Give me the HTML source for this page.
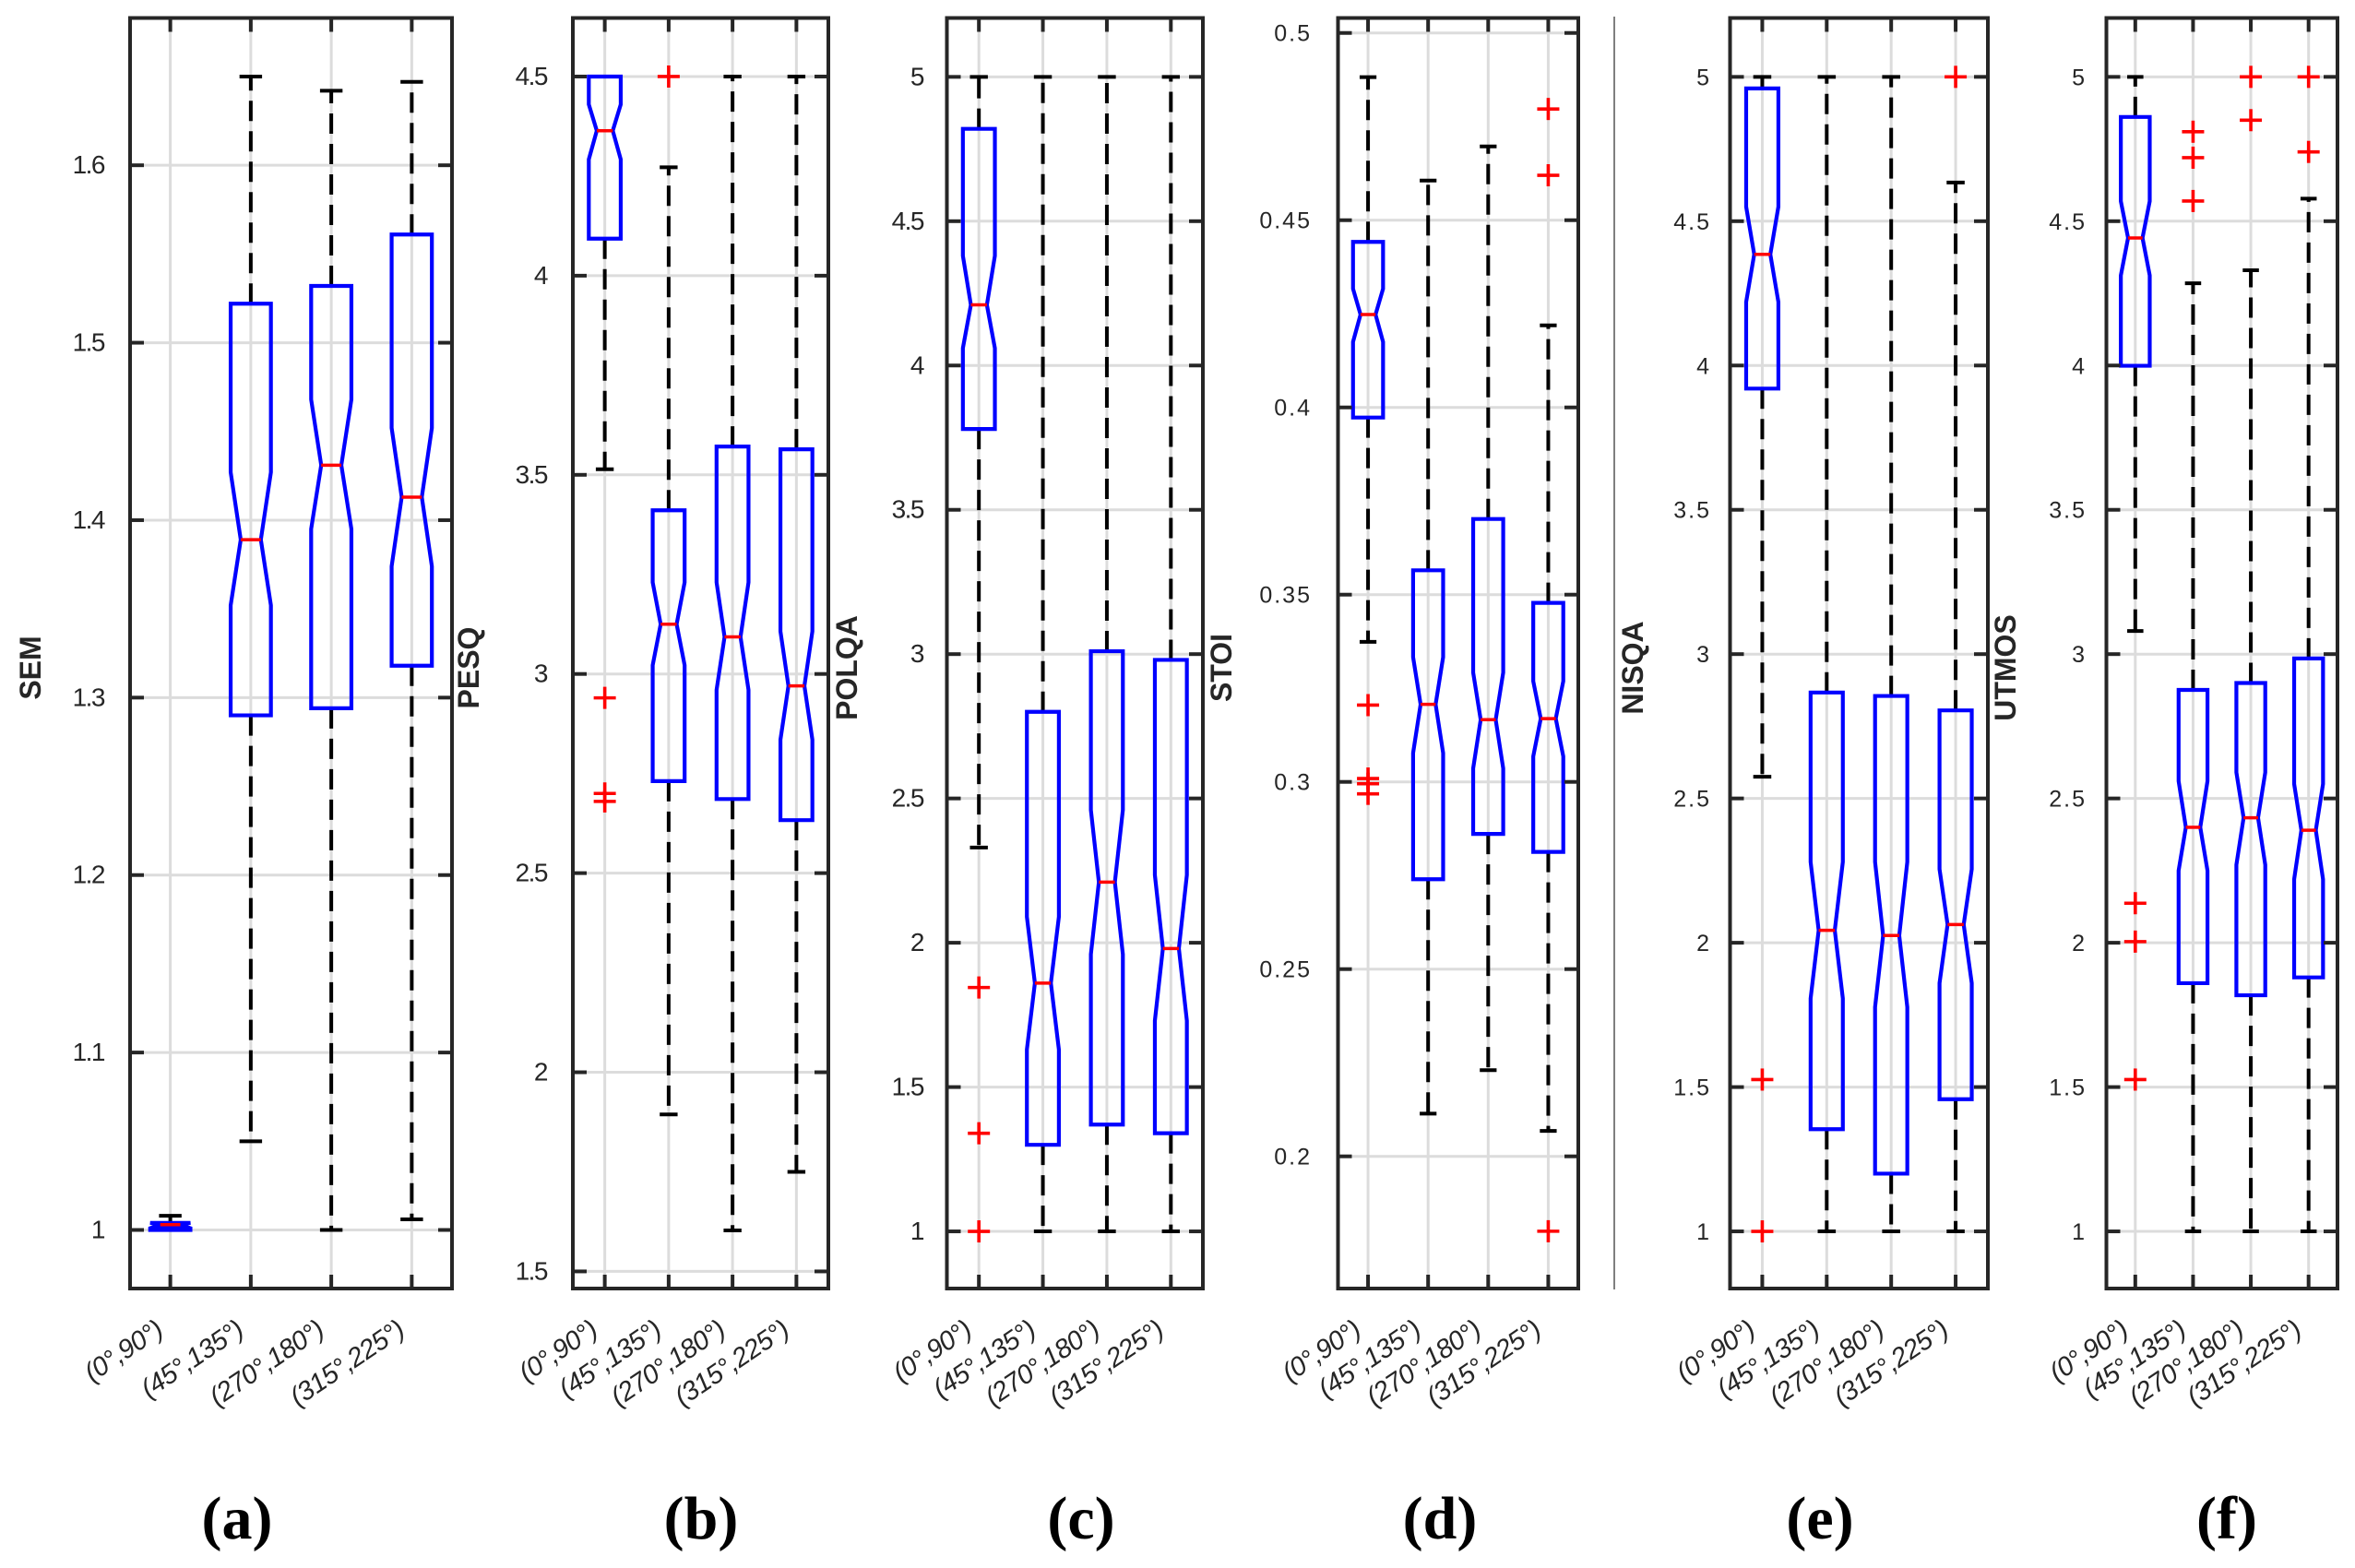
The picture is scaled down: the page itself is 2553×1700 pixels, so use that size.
<!DOCTYPE html>
<html><head><meta charset="utf-8"><title>Box plots</title>
<style>html,body{margin:0;padding:0;background:#fff}svg{display:block}</style></head>
<body>
<svg id="chart" width="2553" height="1700" viewBox="0 0 2553 1700" xmlns="http://www.w3.org/2000/svg"></svg>
<script>
const categories = ["(0°,90°)","(45°,135°)","(270°,180°)","(315°,225°)"];

const semQ1 = [1.000, 1.290, 1.294, 1.318];
const semQ3 = [1.004, 1.522, 1.532, 1.561];
const semMed = [1.003, 1.389, 1.431, 1.413];
const semNotchLo = [1.001, 1.352, 1.395, 1.374];
const semNotchHi = [1.004, 1.427, 1.468, 1.452];
const semWhiskLo = [1.000, 1.050, 1.000, 1.006];
const semWhiskHi = [1.008, 1.650, 1.642, 1.647];
const semOutliers = [[], [], [], []];

const pesqQ1 = [4.093, 2.731, 2.686, 2.633];
const pesqQ3 = [4.500, 3.411, 3.571, 3.564];
const pesqMed = [4.364, 3.125, 3.093, 2.970];
const pesqNotchLo = [4.292, 3.022, 2.960, 2.835];
const pesqNotchHi = [4.430, 3.230, 3.230, 3.107];
const pesqWhiskLo = [3.514, 1.894, 1.603, 1.750];
const pesqWhiskHi = [4.500, 4.272, 4.500, 4.500];
const pesqOutliers = [[2.94, 2.70, 2.68], [4.5], [], []];

const polqaQ1 = [3.78, 1.30, 1.37, 1.34];
const polqaQ3 = [4.82, 2.80, 3.01, 2.98];
const polqaMed = [4.21, 1.86, 2.21, 1.98];
const polqaNotchLo = [4.06, 1.63, 1.96, 1.73];
const polqaNotchHi = [4.38, 2.09, 2.46, 2.235];
const polqaWhiskLo = [2.33, 1.0, 1.0, 1.0];
const polqaWhiskHi = [5.0, 5.0, 5.0, 5.0];
const polqaOutliers = [[1.845, 1.34, 1.0], [], [], []];

const stoiQ1 = [0.3973, 0.2740, 0.2861, 0.2813];
const stoiQ3 = [0.4442, 0.3565, 0.3702, 0.3478];
const stoiMed = [0.4248, 0.3207, 0.3166, 0.3169];
const stoiNotchLo = [0.4175, 0.3077, 0.3036, 0.3068];
const stoiNotchHi = [0.4317, 0.3333, 0.3292, 0.3269];
const stoiWhiskLo = [0.3374, 0.2114, 0.2230, 0.2068];
const stoiWhiskHi = [0.4882, 0.4606, 0.4697, 0.4219];
const stoiOutliers = [[0.3205, 0.3009, 0.2995, 0.2968], [], [], [0.4797, 0.462, 0.18]];

const nisqaQ1 = [3.92, 1.354, 1.20, 1.458];
const nisqaQ3 = [4.96, 2.867, 2.855, 2.805];
const nisqaMed = [4.385, 2.043, 2.025, 2.063];
const nisqaNotchLo = [4.22, 1.807, 1.777, 1.86];
const nisqaNotchHi = [4.55, 2.28, 2.28, 2.255];
const nisqaWhiskLo = [2.575, 1.0, 1.0, 1.0];
const nisqaWhiskHi = [5.0, 5.0, 5.0, 4.634];
const nisqaOutliers = [[1.526, 1.0], [], [], [5.0]];

const utmosQ1 = [3.999, 1.86, 1.818, 1.88];
const utmosQ3 = [4.861, 2.876, 2.90, 2.985];
const utmosMed = [4.442, 2.40, 2.433, 2.39];
const utmosNotchLo = [4.312, 2.25, 2.27, 2.22];
const utmosNotchHi = [4.569, 2.56, 2.59, 2.55];
const utmosWhiskLo = [3.08, 1.0, 1.0, 1.0];
const utmosWhiskHi = [5.0, 4.285, 4.33, 4.578];
const utmosOutliers = [[2.137, 2.004, 1.526], [4.81, 4.72, 4.57], [5.0, 4.85], [5.0, 4.74]];

const semTicks = ["1","1.1","1.2","1.3","1.4","1.5","1.6"];
const pesqTicks = ["1.5","2","2.5","3","3.5","4","4.5"];
const mosTicks = ["1","1.5","2","2.5","3","3.5","4","4.5","5"];
const stoiTicks = ["0.2","0.25","0.3","0.35","0.4","0.45","0.5"];
const panelLetters = ["(a)","(b)","(c)","(d)","(e)","(f)"];

const NS = "http://www.w3.org/2000/svg";
const svg = document.getElementById("chart");
function mk(tag, attrs, parent) {
  const e = document.createElementNS(NS, tag);
  for (const k in attrs) e.setAttribute(k, attrs[k]);
  (parent || svg).appendChild(e);
  return e;
}

const panels = [
  {key:"sem", title:"SEM", x0:141, x1:490, vmin:0.967, vmax:1.683, ticks:semTicks, lblR:113, titleX:33, letterX:257, wide:false,
   q1:semQ1,q3:semQ3,med:semMed,nlo:semNotchLo,nhi:semNotchHi,wlo:semWhiskLo,whi:semWhiskHi,out:semOutliers},
  {key:"pesq", title:"PESQ", x0:621, x1:898, vmin:1.457, vmax:4.647, ticks:pesqTicks, lblR:593, titleX:508, letterX:760, wide:false,
   q1:pesqQ1,q3:pesqQ3,med:pesqMed,nlo:pesqNotchLo,nhi:pesqNotchHi,wlo:pesqWhiskLo,whi:pesqWhiskHi,out:pesqOutliers},
  {key:"polqa", title:"POLQA", x0:1026.5, x1:1304, vmin:0.802, vmax:5.204, ticks:mosTicks, lblR:1001, titleX:918, letterX:1172, wide:false,
   q1:polqaQ1,q3:polqaQ3,med:polqaMed,nlo:polqaNotchLo,nhi:polqaNotchHi,wlo:polqaWhiskLo,whi:polqaWhiskHi,out:polqaOutliers},
  {key:"stoi", title:"STOI", x0:1450.5, x1:1711, vmin:0.1647, vmax:0.504, ticks:stoiTicks, lblR:1422, titleX:1324, letterX:1561, wide:true,
   q1:stoiQ1,q3:stoiQ3,med:stoiMed,nlo:stoiNotchLo,nhi:stoiNotchHi,wlo:stoiWhiskLo,whi:stoiWhiskHi,out:stoiOutliers},
  {key:"nisqa", title:"NISQA", x0:1875.5, x1:2155, vmin:0.802, vmax:5.204, ticks:mosTicks, lblR:1855, titleX:1770, letterX:1973, wide:true,
   q1:nisqaQ1,q3:nisqaQ3,med:nisqaMed,nlo:nisqaNotchLo,nhi:nisqaNotchHi,wlo:nisqaWhiskLo,whi:nisqaWhiskHi,out:nisqaOutliers},
  {key:"utmos", title:"UTMOS", x0:2283.5, x1:2534, vmin:0.802, vmax:5.204, ticks:mosTicks, lblR:2262, titleX:2174, letterX:2414, wide:true,
   q1:utmosQ1,q3:utmosQ3,med:utmosMed,nlo:utmosNotchLo,nhi:utmosNotchHi,wlo:utmosWhiskLo,whi:utmosWhiskHi,out:utmosOutliers}
];
const Y0 = 19.5, Y1 = 1397;

panels.forEach((p, pi) => {
  const g = mk("g", {});
  
  
  const yS = v => Y1 - (v - p.vmin) / (p.vmax - p.vmin) * (Y1 - Y0);
  const w = p.x1 - p.x0, sp = w / 4;
  const xS = i => p.x0 + (i + 0.5) * sp;
  const hw = sp * 0.25, cw = sp * 0.14, tl = 15;

  p.ticks.forEach(t => {
    const y = yS(parseFloat(t));
    const gl = mk("line", {x1:p.x0, x2:p.x1, y1:y, y2:y, stroke:"#dcdcdc", "stroke-width":3}, g);
    
    
  });
  categories.forEach((c, i) => {
    const gl = mk("line", {x1:xS(i), x2:xS(i), y1:Y0, y2:Y1, stroke:"#dcdcdc", "stroke-width":3}, g);
    
    
  });

  categories.forEach((c, i) => {
    const x = xS(i);
    const bg = mk("g", {}, g);
    
    
    const dash = {stroke:"#000", "stroke-width":4, "stroke-dasharray":"22 11"};
    mk("line", Object.assign({x1:x, x2:x, y1:yS(p.q3[i]), y2:yS(p.whi[i])}, dash), bg);
    mk("line", Object.assign({x1:x, x2:x, y1:yS(p.q1[i]), y2:yS(p.wlo[i])}, dash), bg);
    const capU = mk("line", {x1:x-cw, x2:x+cw, y1:yS(p.whi[i]), y2:yS(p.whi[i]), stroke:"#000", "stroke-width":4}, bg);
    
    const capL = mk("line", {x1:x-cw, x2:x+cw, y1:yS(p.wlo[i]), y2:yS(p.wlo[i]), stroke:"#000", "stroke-width":4}, bg);
    
    const yq1 = yS(p.q1[i]), yq3 = yS(p.q3[i]), ym = yS(p.med[i]);
    const ynl = yS(p.nlo[i]), ynh = yS(p.nhi[i]);
    const nw = hw * 0.5;
    const pts = [[x-hw,yq1],[x-hw,ynl],[x-nw,ym],[x-hw,ynh],[x-hw,yq3],[x+hw,yq3],[x+hw,ynh],[x+nw,ym],[x+hw,ynl],[x+hw,yq1]];
    const poly = mk("polygon", {points: pts.map(q => q.join(",")).join(" "), fill: (yq1 - yq3 < 12 ? "#0000ff" : "none"), stroke:"#0000ff", "stroke-width":4.2, "stroke-linejoin":"miter"}, bg);
    
    const med = mk("line", {x1:x-nw, x2:x+nw, y1:ym, y2:ym, stroke:"#ff0000", "stroke-width":3.5}, bg);
    
    p.out[i].forEach(v => {
      const y = yS(v), s = 12;
      const og = mk("g", {stroke:"#ff0000", "stroke-width":3.6}, bg);
      
      
      mk("line", {x1:x-s, x2:x+s, y1:y, y2:y}, og);
      mk("line", {x1:x, x2:x, y1:y-s, y2:y+s}, og);
    });
  });

  p.ticks.forEach(t => {
    const y = yS(parseFloat(t));
    mk("line", {x1:p.x0, x2:p.x0+tl, y1:y, y2:y, stroke:"#262626", "stroke-width":4}, g);
    mk("line", {x1:p.x1-tl, x2:p.x1, y1:y, y2:y, stroke:"#262626", "stroke-width":4}, g);
    const tx = mk("text", {x:p.lblR, y:y+9, "text-anchor":"end", "font-family":"Liberation Sans, sans-serif",
      "font-size": p.wide ? 25 : 28, fill:"#262626", "letter-spacing": p.wide ? 2 : -1.5}, g);
    tx.textContent = t;
    
    
  });
  categories.forEach((c, i) => {
    const x = xS(i);
    mk("line", {x1:x, x2:x, y1:Y1, y2:Y1-tl, stroke:"#262626", "stroke-width":4}, g);
    mk("line", {x1:x, x2:x, y1:Y0, y2:Y0+tl, stroke:"#262626", "stroke-width":4}, g);
    const lx = x - 6, ly = 1446;
    const tx = mk("text", {x:lx, y:ly, "text-anchor":"end", "font-family":"Liberation Sans, sans-serif", "font-style":"italic",
      "font-size":29, fill:"#262626", "letter-spacing":-0.5, transform:"rotate(-34 " + lx + " " + ly + ")"}, g);
    tx.textContent = c;
    
    
  });

  const fr = mk("rect", {x:p.x0, y:Y0, width:w, height:Y1-Y0, fill:"none", stroke:"#262626", "stroke-width":4}, g);
  
  

  const ty = 724;
  const tt = mk("text", {x:p.titleX + 11, y:ty, "text-anchor":"middle", "font-family":"Liberation Sans, sans-serif", "font-weight":"bold",
    "font-size":32, fill:"#262626", transform:"rotate(-90 " + (p.titleX + 11) + " " + ty + ")"}, g);
  tt.textContent = p.title;
  
  

  const lt = mk("text", {x:p.letterX, y:1668, "text-anchor":"middle", "font-family":"Liberation Serif, serif", "font-weight":"bold",
    "font-size":66, fill:"#000"}, g);
  lt.textContent = panelLetters[pi];
  
  
});

const sep = mk("line", {x1:1750, x2:1750, y1:18, y2:1398, stroke:"#555", "stroke-width":1.5});


</script>
</body></html>
